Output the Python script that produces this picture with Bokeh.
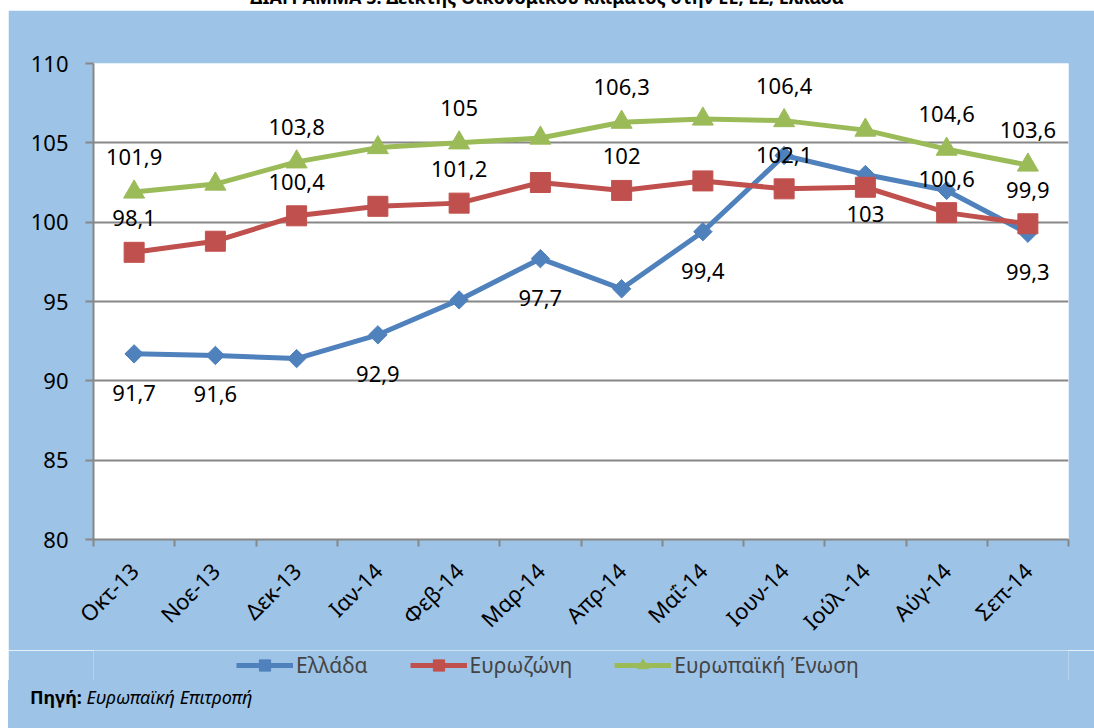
import math
from bokeh.plotting import figure
from bokeh.models import (ColumnDataSource, Range1d, FixedTicker, Legend, LegendItem, Div)
from bokeh.layouts import column
from bokeh.embed import file_html
from bokeh.resources import INLINE
from bokeh.core.properties import value

# ---- data ----
categories = ["Οκτ-13", "Νοε-13", "Δεκ-13", "Ιαν-14", "Φεβ-14", "Μαρ-14",
              "Απρ-14", "Μαΐ-14", "Ιουν-14", "Ιούλ -14", "Αύγ-14", "Σεπ-14"]
greece = [91.7, 91.6, 91.4, 92.9, 95.1, 97.7, 95.8, 99.4, 104.2, 103.0, 102.0, 99.3]
eurozone = [98.1, 98.8, 100.4, 101.0, 101.2, 102.5, 102.0, 102.6, 102.1, 102.2, 100.6, 99.9]
eu = [101.9, 102.4, 103.8, 104.7, 105.0, 105.3, 106.3, 106.5, 106.4, 105.8, 104.6, 103.6]
greece_labels = ["91,7", "91,6", "", "92,9", "", "97,7", "", "99,4", "", "103", "", "99,3"]
eurozone_labels = ["98,1", "", "100,4", "", "101,2", "", "102", "", "102,1", "", "100,6", "99,9"]
eu_labels = ["101,9", "", "103,8", "", "105", "", "106,3", "", "106,4", "", "104,6", "103,6"]
series_names = ["Ελλάδα", "Ευρωζώνη", "Ευρωπαϊκή Ένωση"]
y_ticks = [80, 85, 90, 95, 100, 105, 110]
title_text = "ΔΙΑΓΡΑΜΜΑ 5: Δείκτης Οικονομικού κλίματος στην ΕΕ, ΕΖ, Ελλάδα"
source_bold = "Πηγή:"
source_italic = "Ευρωπαϊκή Επιτροπή"

FONT = "Noto Sans"
BG = "#9DC3E6"
GRID = "#878787"
colors = ["#4F81BD", "#C0504D", "#9BBB59"]

P_H = 640   # main chart (frame 63..539 on page)
L_H = 30    # legend strip
S_H = 728 - 10 - P_H - L_H  # source strip

p = figure(width=1086, height=P_H, x_range=Range1d(0, len(categories)),
           y_range=Range1d(y_ticks[0], y_ticks[-1]),
           output_backend="svg", toolbar_location=None,
           min_border_left=85, min_border_right=26, min_border_top=53,
           min_border_bottom=P_H - 53 - 476, margin=(0, 0, 0, 8))
p.background_fill_color = "white"
p.border_fill_color = BG
p.outline_line_color = None

xs = [i + 0.5 for i in range(len(categories))]

# axes
p.xaxis.ticker = FixedTicker(ticks=xs, minor_ticks=list(range(len(categories) + 1)))
p.xaxis.major_label_overrides = {x: c for x, c in zip(xs, categories)}
p.xaxis.major_tick_out = 0
p.xaxis.major_tick_in = 0
p.xaxis.minor_tick_out = 7
p.xaxis.minor_tick_in = 0
p.xaxis.minor_tick_line_color = GRID
p.xaxis.minor_tick_line_width = 2
p.xaxis.major_label_orientation = math.pi / 4
p.xaxis.major_label_standoff = 20
p.yaxis.ticker = FixedTicker(ticks=y_ticks)
p.yaxis.major_tick_out = 8
p.yaxis.major_tick_in = 0
p.yaxis.minor_tick_out = 0
p.yaxis.minor_tick_in = 0
p.yaxis.major_label_standoff = 17
for ax in (p.xaxis, p.yaxis):
    ax.axis_line_color = GRID
    ax.axis_line_width = 2
    ax.major_tick_line_color = GRID
    ax.major_tick_line_width = 2
    ax.major_label_text_font = FONT
    ax.major_label_text_font_size = "22px"
    ax.major_label_text_color = "black"
p.xgrid.visible = False
p.ygrid.grid_line_color = GRID
p.ygrid.grid_line_width = 2

all_vals = [greece, eurozone, eu]
all_labels = [greece_labels, eurozone_labels, eu_labels]
markers = [("square", math.pi / 4, 13), ("square", 0, 20), ("triangle", 0, 21)]
offsets = [39, -34, -35]

sources = []
for vals, col, (mk, ang, sz) in zip(all_vals, colors, markers):
    src = ColumnDataSource(dict(x=xs, y=vals))
    sources.append(src)
    p.line("x", "y", source=src, line_color=col, line_width=5)
    p.scatter("x", "y", source=src, marker=mk, angle=ang, size=sz,
              fill_color=col, line_color=col)

for vals, labs, off in zip(all_vals, all_labels, offsets):
    lx = [x for x, t in zip(xs, labs) if t]
    ly = [v for v, t in zip(vals, labs) if t]
    lt = [t for t in labs if t]
    src = ColumnDataSource(dict(x=lx, y=ly, text=lt))
    p.text("x", "y", text="text", source=src, y_offset=off, text_align="center",
           text_baseline="middle", text_font=value(FONT), text_font_size="22px",
           text_color="black")

# ---- legend strip (separate figure; its series lie outside its visible range) ----
f2 = figure(width=1086, height=L_H, x_range=Range1d(0, 1), y_range=Range1d(0, 1),
            output_backend="svg", toolbar_location=None,
            x_axis_location=None, y_axis_location=None,
            min_border=0, min_border_left=0, min_border_right=0,
            min_border_top=0, min_border_bottom=0, margin=(0, 0, 0, 8))
f2.background_fill_color = BG
f2.border_fill_color = BG
f2.outline_line_color = None
f2.xgrid.visible = False
f2.ygrid.visible = False

items = []
for name, src, col, (mk, ang, sz) in zip(series_names, sources, colors, markers):
    lr = f2.line("x", "y", source=src, line_color=col, line_width=5)
    sr = f2.scatter("x", "y", source=src, marker=mk, angle=ang,
                    fill_color=col, line_color=col)
    items.append(LegendItem(label=name, renderers=[lr, sr]))

legend = Legend(items=items, orientation="horizontal", location=(143, 1),
                background_fill_alpha=0, border_line_color=None,
                glyph_width=57, glyph_height=28, label_text_font=FONT,
                label_text_font_size="21px", spacing=42, label_standoff=3,
                padding=0, margin=0)
f2.add_layout(legend)

title_div = Div(
    text=f'<div style="position:relative; top:-15px; text-align:center; width:1094px; '
         f'font-family:\'{FONT}\'; font-weight:bold; font-size:18px; line-height:25px; '
         f'white-space:nowrap; color:black">{title_text}</div>',
    width=1094, height=10, margin=(0, 0, 0, 0),
    styles={"overflow": "hidden", "background-color": "white"})

source_div = Div(
    text=f'<div style="padding:5px 0 0 22px; font-family:\'{FONT}\'; font-size:18px; '
         f'line-height:24px; color:black; white-space:nowrap"><b>{source_bold}</b> '
         f'<i>{source_italic}</i></div>',
    width=1086, height=S_H, margin=(0, 0, 0, 8),
    styles={"background-color": BG})

layout = column(title_div, p, f2, source_div, spacing=0)

open("out.html", "w").write(file_html(layout, INLINE))
